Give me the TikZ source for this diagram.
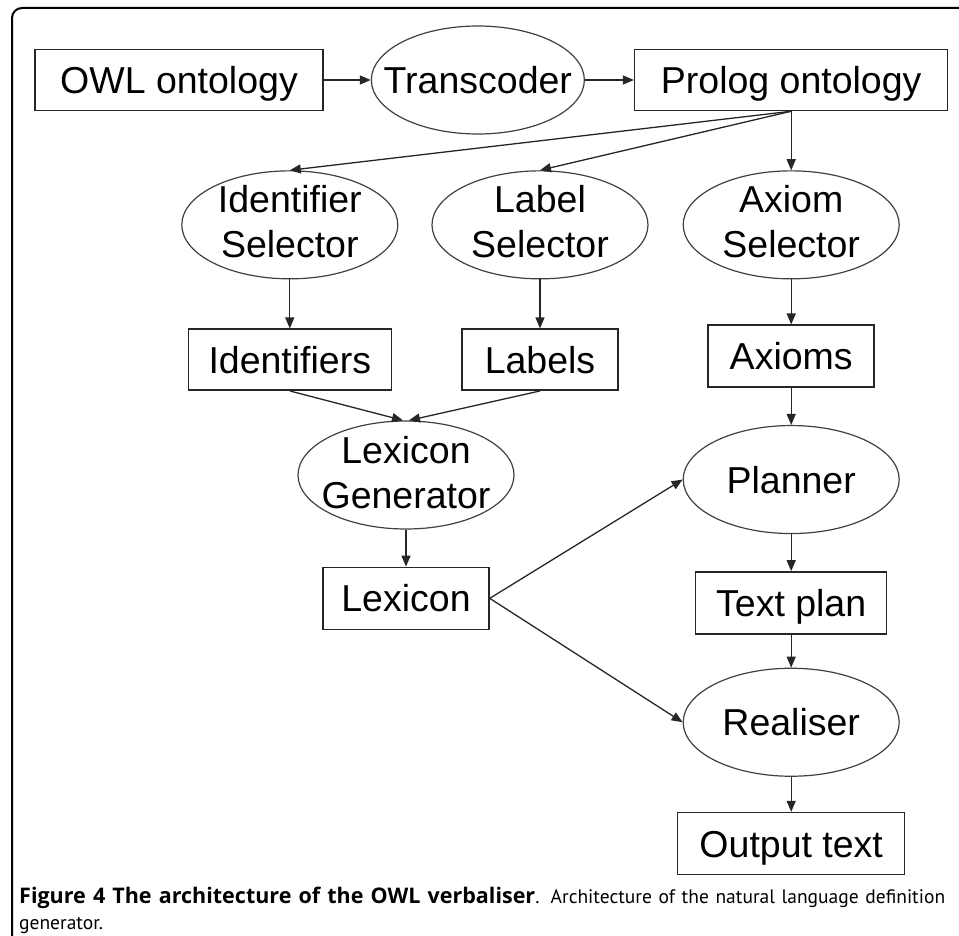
\documentclass[tikz,border=0pt]{standalone}
\usepackage{fontspec}
\setmainfont{Liberation Sans}
\newfontfamily\capfont{PT Sans}
\newfontfamily\capbold{Open Sans Bold}
\usetikzlibrary{positioning,shapes.geometric,arrows.meta}

\begin{document}
\begin{tikzpicture}[x=1pt,y=1pt,
    box/.style={draw=black!85, line width=1.5pt, inner sep=0pt, minimum height=61pt,
      text height=27pt, text depth=0pt, font=\fontsize{37.5}{45}\selectfont},
    proc/.style={ellipse, draw=black!75, line width=1.2pt, inner sep=-20pt,
      minimum width=216pt, minimum height=108pt, align=center,
      font=\fontsize{37.5}{45}\selectfont},
    oneline/.style={text height=27pt, text depth=0pt},
    twoline/.style={text depth=6pt},
    flow/.style={-{Triangle[length=11pt,width=9pt]}, line width=1.3pt, draw=black!85}]
  \useasboundingbox (0,0) rectangle (959,-936);
  % frame
  \draw[line width=2pt, rounded corners=10pt] (12,-960) -- (12,-8) -- (980,-8);

  \node[box, minimum width=288pt] (owl) at (179,-80) {OWL ontology};
  \node[proc, oneline, minimum width=213pt, right=47pt of owl] (transcoder) {Transcoder};
  \node[box, minimum width=313pt, right=49pt of transcoder] (prolog) {Prolog ontology};

  \node[proc, twoline, below=59pt of prolog] (axsel) {Axiom\\Selector};
  \node[proc, twoline, left=34pt of axsel] (labsel) {Label\\Selector};
  \node[proc, twoline, left=33pt of labsel] (idsel) {Identifier\\Selector};

  \node[box, minimum width=203pt, below=49pt of idsel] (idents) {Identifiers};
  \node[box, minimum width=156pt, below=49pt of labsel] (labels) {Labels};
  \node[box, minimum width=166pt, minimum height=62pt, below=45pt of axsel] (axioms) {Axioms};

  \node[proc, twoline] (lexgen) at (406,-475) {Lexicon\\Generator};
  \node[box, minimum width=166pt, minimum height=62pt, below=37pt of lexgen] (lexicon) {Lexicon};

  \node[proc, oneline, below=37pt of axioms] (planner) {Planner};
  \node[box, minimum width=191pt, minimum height=62pt, below=37pt of planner] (textplan) {Text plan};
  \node[proc, oneline, below=33pt of textplan] (realiser) {Realiser};
  \node[box, minimum width=227pt, minimum height=62pt, below=35pt of realiser] (output) {Output text};

  \draw[flow] (owl) -- (transcoder);
  \draw[flow] (transcoder) -- (prolog);
  \draw[flow] (prolog.south) -- (idsel.north);
  \draw[flow] (prolog.south) -- (labsel.north);
  \draw[flow] (prolog.south) -- (axsel.north);
  \draw[flow] (idsel) -- (idents);
  \draw[flow] (labsel) -- (labels);
  \draw[flow] (axsel) -- (axioms);
  \draw[flow] (idents.south) -- ([xshift=-3pt]lexgen.north);
  \draw[flow] (labels.south) -- ([xshift=3pt]lexgen.north);
  \draw[flow] (lexgen) -- (lexicon);
  \draw[flow] (axioms) -- (planner);
  \draw[flow] (lexicon.east) -- (planner.west);
  \draw[flow] (lexicon.east) -- (realiser.west);
  \draw[flow] (planner) -- (textplan);
  \draw[flow] (textplan) -- (realiser);
  \draw[flow] (realiser) -- (output);

  \node[anchor=base west, inner sep=0pt, text width=926pt, align=justify,
    font=\capfont\fontsize{19.5}{26}\selectfont] (caption) at (19,-903)
    {{\capbold\fontsize{21.5}{26}\selectfont Figure 4 The architecture of the OWL verbaliser}. Architecture of the natural language definition\linebreak generator.};
\end{tikzpicture}
\end{document}
